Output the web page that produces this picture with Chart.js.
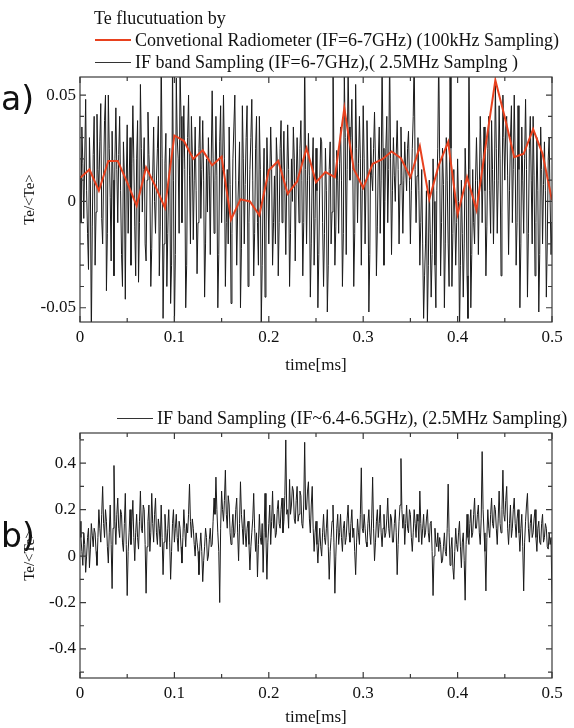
<!DOCTYPE html>
<html>
<head>
<meta charset="utf-8">
<script src="https://cdn.jsdelivr.net/npm/chart.js@4.4.1/dist/chart.umd.min.js"></script>
<style>
  body { margin: 0; background: #fff; width: 574px; height: 728px; position: relative; overflow: hidden;
         font-family: "Liberation Serif", serif; color: #111; }
  canvas { position: absolute; left: 0; }
  #chartA { top: 0; }
  #chartB { top: 380px; }
  .txt { position: absolute; white-space: nowrap; font-size: 18px; line-height: 20px; height: 20px; }
  .panel { position: absolute; font-family: "DejaVu Sans", sans-serif; font-size: 33px; line-height: 40px; }
  .swatch { position: absolute; width: 36px; }
</style>
</head>
<body>
<canvas id="chartA" width="574" height="380"></canvas>
<canvas id="chartB" width="574" height="348"></canvas>

<div class="panel" style="left:1px; top:79px;">a)</div>
<div class="panel" style="left:1px; top:516px;">b)</div>

<div class="txt" style="left:94px; top:8px;">Te flucutuation by</div>
<div class="swatch" style="left:95px; top:39px; height:2px; background:#e8411e;"></div>
<div class="txt" style="left:135px; top:30px;">Convetional Radiometer (IF=6-7GHz) (100kHz Sampling)</div>
<div class="swatch" style="left:95px; top:62px; height:1px; background:#333;"></div>
<div class="txt" style="left:135px; top:52px;">IF band Sampling (IF=6-7GHz),( 2.5MHz Samplng )</div>

<div class="swatch" style="left:117px; top:418px; height:1px; background:#333;"></div>
<div class="txt" style="left:157px; top:408px;">IF band Sampling (IF~6.4-6.5GHz), (2.5MHz Sampling)</div>

<script>
// time axis (ms)
const xTicks = [0, 0.1, 0.2, 0.3, 0.4, 0.5];
const xMinorTicks = [0.05, 0.15, 0.25, 0.35, 0.45];
const yTicksA = [-0.05, 0, 0.05];
const yMinorTicksA = [-0.04, -0.03, -0.02, -0.01, 0.01, 0.02, 0.03, 0.04];
const yTicksB = [-0.4, -0.2, 0, 0.2, 0.4];
const yMinorTicksB = [-0.5, -0.3, -0.1, 0.1, 0.3, 0.5];

const radiometerStep = 0.01;   // 100kHz sampling -> 0.01 ms
const ifStep = 0.001;          // displayed IF samples, ms

// a) conventional radiometer, Te/<Te> - 1
const radiometerA = [
  0.011, 0.015, 0.005, 0.019, 0.019, 0.009, -0.002, 0.016, 0.007, -0.003,
  0.031, 0.0285, 0.020, 0.024, 0.017, 0.021, -0.0085, 0.001, 0.000, -0.0065,
  0.0146, 0.019, 0.0036, 0.0094, 0.025, 0.009, 0.0138, 0.0114, 0.0438, 0.0153,
  0.0063, 0.0177, 0.0197, 0.0235, 0.0203, 0.0114, 0.026, 0.001, 0.017, 0.028,
  -0.006, 0.0114, -0.004, 0.027, 0.057, 0.0396, 0.0208, 0.0224, 0.034, 0.0224,
  0.0005
];

// a) IF band sampling (IF=6-7GHz)
const ifBandA = [
  0.012, -0.010, 0.035, 0.018, -0.008, 0.020, 0.048, 0.005, -0.015, -0.032, 0.030, 0.010, -0.065, -0.012, 0.022, 0.040, -0.030, -0.005, 0.041, 0.015,
  0.005, 0.028, 0.046, -0.008, -0.020, 0.012, 0.038, 0.050, -0.042, -0.015, 0.050, 0.025, 0.002, -0.028, 0.033, 0.010, -0.035, 0.020, 0.044, 0.015,
  -0.010, 0.022, 0.040, 0.005, -0.025, -0.040, 0.028, 0.012, -0.046, 0.010, 0.036, -0.015, 0.008, 0.030, -0.030, 0.018, 0.045, 0.020, -0.012, -0.035,
  0.020, 0.038, -0.038, -0.010, 0.055, 0.025, -0.005, 0.015, 0.030, -0.020, -0.028, 0.010, 0.042, 0.022, 0.010, -0.040, -0.022, 0.012, 0.035, 0.000,
  -0.015, 0.010, 0.025, 0.040, -0.035, -0.012, 0.070, 0.020, -0.055, -0.020, 0.018, 0.032, -0.040, -0.015, 0.010, 0.025, -0.048, -0.030, 0.065, 0.010,
  -0.060, -0.025, 0.058, 0.030, 0.020, -0.015, 0.062, 0.040, -0.010, 0.020, 0.045, 0.015, -0.050, -0.030, 0.030, 0.050, 0.012, -0.020, 0.040, 0.022,
  -0.018, 0.010, 0.035, 0.005, -0.034, -0.010, 0.025, 0.040, -0.008, 0.015, 0.038, 0.010, -0.045, -0.020, 0.020, -0.005, 0.030, 0.012, -0.025, 0.018,
  0.052, 0.020, -0.015, 0.010, 0.040, 0.012, -0.050, -0.025, 0.028, 0.045, -0.010, 0.015, 0.050, 0.020, -0.040, -0.010, 0.015, -0.020, 0.035, 0.008,
  -0.048, -0.015, 0.020, 0.035, 0.050, 0.010, -0.030, -0.005, 0.010, 0.028, -0.050, -0.022, 0.045, 0.020, -0.020, 0.008, 0.030, 0.045, -0.040, -0.010,
  0.015, 0.030, 0.048, 0.010, -0.035, -0.015, 0.025, 0.040, -0.010, -0.030, 0.040, 0.015, -0.058, -0.030, 0.005, 0.025, -0.045, -0.020, 0.030, 0.012,
  -0.020, 0.010, 0.035, 0.015, -0.030, -0.010, 0.012, -0.020, 0.030, 0.018, -0.035, -0.010, 0.025, 0.038, -0.010, 0.015, 0.033, 0.005, -0.025, 0.010,
  0.036, 0.015, -0.040, -0.015, 0.020, 0.000, 0.035, 0.020, -0.028, 0.008, 0.030, 0.012, -0.010, 0.025, 0.038, 0.010, -0.035, -0.010, 0.070, 0.015,
  -0.020, 0.010, 0.032, 0.012, -0.045, -0.020, 0.015, 0.030, -0.030, -0.008, 0.025, 0.005, -0.050, -0.025, 0.010, 0.030, 0.028, -0.010, -0.040, -0.015,
  0.025, 0.005, -0.052, -0.030, 0.015, 0.028, -0.020, -0.005, 0.070, 0.020, -0.030, -0.012, 0.024, 0.010, -0.015, 0.018, 0.035, 0.010, -0.040, -0.015,
  0.060, 0.030, -0.025, 0.015, 0.062, 0.035, 0.010, 0.030, 0.048, 0.015, -0.040, -0.015, 0.055, 0.025, -0.010, 0.018, 0.040, 0.020, -0.030, 0.005,
  0.045, 0.020, -0.020, 0.010, 0.038, 0.015, -0.052, -0.025, 0.030, 0.012, 0.005, 0.025, 0.042, 0.018, -0.035, -0.012, 0.020, 0.035, -0.015, 0.010,
  0.065, 0.025, -0.030, 0.000, 0.025, 0.040, -0.010, 0.015, 0.070, 0.020, -0.025, 0.005, 0.030, 0.012, 0.000, 0.022, 0.038, 0.015, -0.020, 0.008,
  0.035, 0.012, -0.015, 0.010, 0.028, 0.015, 0.005, 0.025, 0.033, 0.010, -0.020, 0.005, 0.025, 0.040, 0.070, 0.015, -0.010, 0.012, 0.030, 0.005,
  -0.030, -0.010, 0.015, -0.020, -0.055, -0.035, -0.020, 0.005, -0.058, -0.030, 0.010, -0.015, -0.045, -0.025, 0.020, 0.000, -0.030, -0.050, 0.005, 0.025,
  0.070, 0.020, -0.035, -0.010, 0.025, 0.008, -0.050, -0.020, 0.030, 0.010, -0.020, -0.040, 0.070, 0.025, -0.040, -0.015, 0.015, -0.005, -0.030, -0.010,
  0.020, 0.000, -0.062, -0.030, 0.010, -0.015, -0.045, -0.020, 0.025, 0.008, -0.035, -0.055, 0.070, 0.015, -0.050, -0.025, 0.015, -0.010, -0.020, 0.010,
  0.030, 0.010, -0.025, 0.005, 0.040, 0.020, -0.010, 0.015, 0.035, 0.005, -0.035, -0.012, 0.025, 0.040, 0.005, -0.015, 0.038, 0.015, -0.020, 0.010,
  0.055, 0.025, -0.015, 0.010, 0.045, 0.020, -0.035, -0.005, 0.050, 0.030, 0.010, 0.035, 0.040, 0.012, -0.025, 0.005, 0.030, 0.045, -0.010, 0.015,
  0.050, 0.020, -0.030, -0.010, 0.045, 0.015, -0.050, -0.020, 0.035, 0.010, -0.015, 0.020, 0.048, 0.015, -0.045, -0.015, 0.025, 0.040, 0.010, -0.020,
  0.040, 0.012, -0.035, -0.010, 0.030, 0.005, -0.052, -0.025, 0.035, 0.015, -0.020, 0.008, 0.028, 0.005, -0.045, -0.020, 0.020, 0.030, 0.000, -0.025,
  -0.010
];

// b) IF band sampling (IF~6.4-6.5GHz)
const ifBandB = [
  0.15, 0.08, 0.02, -0.04, 0.10, 0.05, -0.07, 0.00, 0.08, 0.12, -0.05, 0.03, 0.14, 0.09, 0.04, 0.12, 0.10, 0.02, -0.04, 0.08,
  0.20, 0.12, 0.06, 0.18, 0.30, 0.14, 0.08, 0.20, 0.15, 0.04, -0.03, 0.10, 0.22, 0.05, -0.14, 0.12, 0.39, 0.15, 0.05, 0.18,
  0.25, 0.12, 0.08, 0.20, 0.18, 0.06, 0.02, 0.14, 0.27, 0.05, -0.17, 0.02, 0.10, 0.20, 0.05, 0.15, 0.24, 0.08, -0.02, 0.10,
  0.18, 0.08, 0.03, 0.15, 0.28, 0.12, 0.10, 0.22, 0.20, 0.05, -0.16, 0.04, 0.15, 0.22, 0.02, 0.10, 0.27, 0.14, 0.06, 0.18,
  0.25, 0.10, 0.05, 0.16, 0.12, 0.04, 0.22, 0.08, -0.08, 0.06, 0.18, 0.10, 0.03, 0.12, 0.20, 0.06, -0.10, 0.02, 0.14, 0.20,
  0.06, 0.12, 0.18, 0.08, 0.02, 0.15, 0.12, 0.04, -0.03, 0.08, 0.20, 0.12, 0.04, 0.14, 0.10, 0.18, 0.31, 0.15, 0.08, 0.16,
  0.12, 0.05, 0.00, 0.10, 0.06, 0.02, -0.08, 0.04, 0.10, 0.02, -0.11, -0.02, 0.04, 0.12, 0.08, -0.02, 0.00, 0.07, 0.12, 0.04,
  0.05, 0.15, 0.25, 0.18, 0.34, 0.20, 0.10, 0.02, -0.20, 0.12, 0.28, 0.20, 0.15, 0.24, 0.37, 0.18, 0.12, 0.26, 0.22, 0.10,
  0.05, 0.12, 0.18, 0.08, 0.10, 0.20, 0.25, 0.10, -0.02, 0.14, 0.32, 0.18, 0.12, 0.05, 0.20, 0.10, 0.04, 0.12, 0.15, 0.05,
  -0.06, 0.04, 0.10, 0.16, 0.27, 0.12, 0.02, 0.10, -0.09, 0.05, 0.18, 0.08, 0.05, 0.14, -0.07, 0.10, 0.27, 0.08, -0.10, 0.06,
  0.14, 0.22, 0.05, 0.15, 0.28, 0.12, 0.18, 0.08, 0.10, 0.20, 0.24, 0.14, 0.12, 0.20, 0.25, 0.10, 0.15, 0.26, 0.50, 0.18,
  0.20, 0.12, 0.33, 0.18, 0.22, 0.30, 0.28, 0.16, 0.14, 0.24, 0.30, 0.15, 0.18, 0.28, 0.26, 0.14, 0.12, 0.22, 0.49, 0.20,
  0.20, 0.28, 0.32, 0.16, 0.10, 0.22, 0.30, 0.12, 0.02, 0.10, 0.15, 0.05, -0.03, 0.06, 0.12, 0.04, 0.00, 0.10, 0.18, 0.08,
  0.05, 0.12, 0.20, 0.04, -0.10, 0.02, 0.08, 0.15, 0.22, 0.06, -0.16, 0.00, 0.12, 0.18, 0.05, 0.10, 0.18, 0.08, 0.02, 0.12,
  0.15, 0.05, 0.08, 0.16, 0.22, 0.10, 0.06, 0.14, 0.20, 0.08, 0.12, 0.02, -0.08, 0.06, 0.16, 0.10, 0.05, 0.18, 0.38, 0.12,
  0.10, 0.18, 0.12, 0.06, 0.04, 0.14, 0.20, 0.10, 0.05, 0.16, 0.34, 0.12, -0.02, 0.06, 0.15, 0.20, 0.08, 0.14, 0.22, 0.10,
  0.04, 0.12, 0.18, 0.08, 0.10, 0.16, 0.25, 0.12, 0.08, 0.18, 0.16, 0.06, 0.06, 0.14, 0.20, 0.10, -0.08, 0.05, 0.15, 0.22,
  0.42, 0.20, 0.12, 0.18, 0.05, 0.14, 0.22, 0.12, 0.10, 0.20, 0.18, 0.08, 0.02, 0.10, 0.20, 0.14, 0.08, 0.18, 0.15, 0.06,
  0.28, 0.14, 0.05, 0.12, 0.18, 0.08, 0.10, 0.16, 0.20, 0.10, 0.06, 0.14, 0.15, 0.02, -0.17, 0.00, 0.12, 0.06, 0.04, 0.10,
  0.02, 0.08, 0.05, -0.03, -0.02, 0.04, 0.10, 0.02, 0.00, 0.12, 0.31, 0.10, -0.04, 0.03, 0.08, -0.05, -0.10, 0.02, 0.12, 0.05,
  0.02, 0.10, 0.15, 0.04, -0.05, 0.06, 0.10, -0.02, -0.19, 0.05, 0.18, 0.08, 0.05, 0.14, 0.20, 0.08, 0.10, 0.18, 0.25, 0.12,
  0.12, 0.18, 0.22, 0.10, 0.05, 0.16, 0.45, 0.20, 0.10, 0.02, -0.15, 0.08, 0.20, 0.12, 0.08, 0.18, 0.25, 0.14, 0.12, 0.22,
  0.20, 0.12, 0.05, 0.16, 0.28, 0.14, 0.10, 0.20, 0.37, 0.18, 0.15, 0.24, 0.30, 0.12, 0.05, 0.14, 0.22, 0.08, 0.12, 0.20,
  0.25, 0.14, 0.08, 0.16, 0.20, 0.10, 0.02, 0.12, 0.18, 0.04, -0.15, 0.06, 0.15, 0.22, 0.27, 0.12, 0.06, 0.14, 0.18, 0.08,
  0.10, 0.16, 0.20, 0.08, 0.02, 0.12, 0.15, 0.06, 0.05, 0.14, 0.18, 0.06, 0.08, 0.14, 0.12, 0.04, 0.03, 0.10, 0.05, 0.08,
  -0.20
];

const SERIF = '"Liberation Serif", "Times New Roman", serif';
const INK = '#111';

const toPoints = (values, step) => values.map((v, i) => ({ x: i * step, y: v }));

// frame box with inward ticks on all four sides
const frameTicks = {
  id: 'frameTicks',
  afterDatasetsDraw(chart, args, opts) {
    const { ctx, chartArea: a, scales } = chart;
    const xs = scales.x, ys = scales.y;
    ctx.save();
    ctx.strokeStyle = '#3a3a3a';
    ctx.lineWidth = 1.2;
    ctx.beginPath();
    const xMark = (v, len) => {
      const px = xs.getPixelForValue(v);
      ctx.moveTo(px, a.bottom); ctx.lineTo(px, a.bottom - len);
      ctx.moveTo(px, a.top); ctx.lineTo(px, a.top + len);
    };
    const yMark = (v, len) => {
      const py = ys.getPixelForValue(v);
      ctx.moveTo(a.left, py); ctx.lineTo(a.left + len, py);
      ctx.moveTo(a.right, py); ctx.lineTo(a.right - len, py);
    };
    opts.xMajor.forEach(v => xMark(v, 6));
    opts.xMinor.forEach(v => xMark(v, 4));
    opts.yMajor.forEach(v => yMark(v, 6));
    opts.yMinor.forEach(v => yMark(v, 4));
    ctx.stroke();
    ctx.strokeRect(a.left, a.top, a.width, a.height);
    ctx.restore();
  }
};

function buildChart(canvasId, datasets, cfg) {
  return new Chart(document.getElementById(canvasId), {
    type: 'line',
    data: { datasets: datasets },
    options: {
      responsive: false,
      animation: false,
      devicePixelRatio: 1,
      events: [],
      layout: { padding: { left: 0, right: 22, top: cfg.top, bottom: 0 } },
      elements: { point: { radius: 0 }, line: { tension: 0 } },
      plugins: {
        legend: { display: false },
        tooltip: { enabled: false },
        frameTicks: { xMajor: xTicks, xMinor: xMinorTicks, yMajor: cfg.yTicks, yMinor: cfg.yMinor }
      },
      scales: {
        x: {
          type: 'linear', min: 0, max: 0.5,
          grid: { display: false, drawTicks: false }, border: { display: false },
          afterBuildTicks: s => { s.ticks = xTicks.map(v => ({ value: v })); },
          afterFit: s => { s.height = cfg.xHeight; },
          ticks: { padding: 5, color: INK, autoSkip: false, maxRotation: 0,
                   font: { family: SERIF, size: 17 }, callback: v => String(v) },
          title: { display: true, text: 'time[ms]', color: INK,
                   font: { family: SERIF, size: 17 }, padding: { top: 0, bottom: cfg.xTitlePad } }
        },
        y: {
          type: 'linear', min: cfg.yMin, max: cfg.yMax,
          grid: { display: false, drawTicks: false }, border: { display: false },
          afterBuildTicks: s => { s.ticks = cfg.yTicks.map(v => ({ value: v })); },
          afterFit: s => { s.width = 80; },
          ticks: { padding: 4, color: INK, autoSkip: false,
                   font: { family: SERIF, size: 17 }, callback: v => String(v) },
          title: { display: true, text: 'Te/<Te>', color: INK,
                   font: { family: SERIF, size: 15 }, padding: { top: 21, bottom: 0 } }
        }
      }
    },
    plugins: [frameTicks]
  });
}

buildChart('chartA', [
  { label: 'Convetional Radiometer (IF=6-7GHz) (100kHz Sampling)',
    data: toPoints(radiometerA, radiometerStep), borderColor: '#e8411e', borderWidth: 2, clip: 0 },
  { label: 'IF band Sampling (IF=6-7GHz),( 2.5MHz Samplng )',
    data: toPoints(ifBandA, ifStep), borderColor: '#1a1a1a', borderWidth: 1, clip: 0 }
], { top: 77, xHeight: 58, xTitlePad: 4, yMin: -0.0567, yMax: 0.0585, yTicks: yTicksA, yMinor: yMinorTicksA });

buildChart('chartB', [
  { label: 'IF band Sampling (IF~6.4-6.5GHz), (2.5MHz Sampling)',
    data: toPoints(ifBandB, ifStep), borderColor: '#1a1a1a', borderWidth: 1, clip: 0 }
], { top: 53, xHeight: 50, xTitlePad: 0, yMin: -0.525, yMax: 0.53, yTicks: yTicksB, yMinor: yMinorTicksB });
</script>
</body>
</html>
